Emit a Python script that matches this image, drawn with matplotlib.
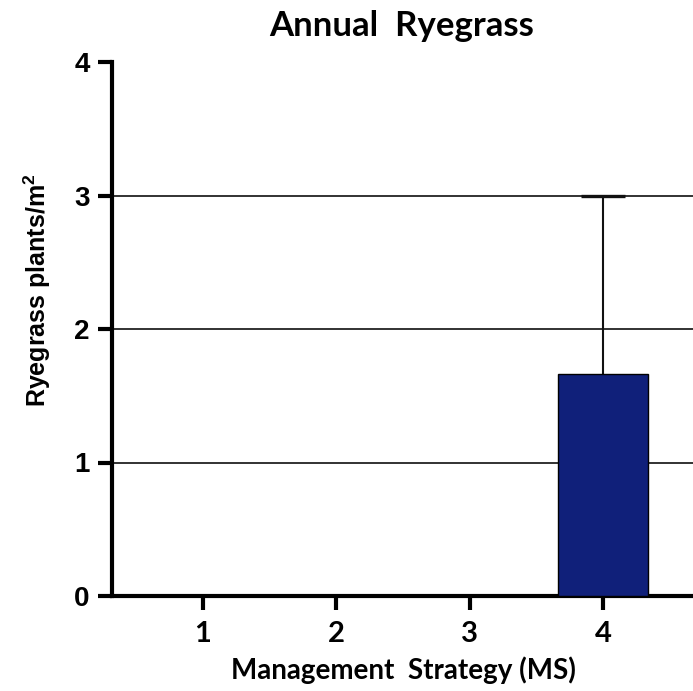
import matplotlib
matplotlib.use("Agg")
import matplotlib.pyplot as plt

# Data
strategies = [1, 2, 3, 4]
means = [0.0, 0.0, 0.0, 1.66]
err_upper = [0.0, 0.0, 0.0, 1.34]
y_ticks = [0, 1, 2, 3, 4]
grid_levels = [1, 2, 3]
title = "Annual  Ryegrass"
xlabel = "Management  Strategy (MS)"

plt.rcParams["mathtext.fontset"] = "custom"
plt.rcParams["mathtext.bf"] = "Liberation Sans:bold"
plt.rcParams["mathtext.rm"] = "Liberation Sans:bold"

fig = plt.figure(figsize=(6.93, 6.91), dpi=100)
ax = fig.add_axes([112/693, 1-596/691, 1-112/693, (596-62)/691])

bar_color = "#10207A"
for y in grid_levels:
    ax.axhline(y, color="#222222", lw=1.3, zorder=1)

bar_w = 0.67
ax.bar(strategies, means, width=bar_w, color=bar_color, edgecolor="black", linewidth=1.0, zorder=3)
cap_half = 0.165
for x, m, e in zip(strategies, means, err_upper):
    if e > 0:
        ax.vlines(x, m, m + e, color="#111111", lw=1.5, zorder=2)
        ax.hlines(m + e, x - cap_half, x + cap_half, color="#111111", lw=2.4, zorder=2)

ax.set_xlim(1 - 91/133.5, 4 + 90/133.5)
ax.set_ylim(0, 4)
ax.set_yticks(y_ticks)
ax.set_xticks(strategies)

for s in ["top", "right"]:
    ax.spines[s].set_visible(False)
for s in ["left", "bottom"]:
    ax.spines[s].set_linewidth(3)
    ax.spines[s].set_color("black")

ax.tick_params(axis="both", direction="out", length=10, width=3, color="black")
ax.set_yticklabels([str(t) for t in y_ticks], family=["Liberation Sans", "DejaVu Sans"],
                   fontweight="bold", fontsize=20)
ax.set_xticklabels([str(s) for s in strategies], family=["Lato", "DejaVu Sans"],
                   fontweight="bold", fontsize=21)
ax.tick_params(axis="x", pad=8)
ax.tick_params(axis="y", pad=6)

fig.text(37/693, 1-290/691, "Ryegrass plants/m$^{\\mathrm{2}}$", rotation=90, ha="center", va="center",
         family=["Liberation Sans", "DejaVu Sans"], fontweight="bold", fontsize=18)
fig.text(403/693, 1-670/691, xlabel, ha="center", va="center", family=["Lato", "DejaVu Sans"],
         fontweight="bold", fontsize=20)
fig.text(402/693, 1-26/691, title, ha="center", va="center", family=["Lato", "DejaVu Sans"],
         fontweight="bold", fontsize=25)

fig.savefig("out.png", dpi=100)
